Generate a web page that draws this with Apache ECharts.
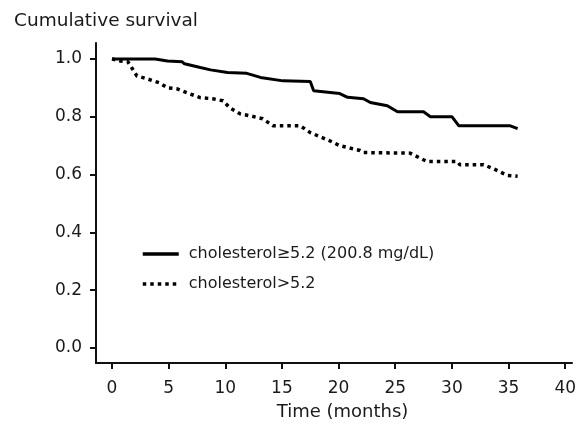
<!DOCTYPE html>
<html>
<head>
<meta charset="utf-8">
<script src="https://cdn.jsdelivr.net/npm/echarts@6/dist/echarts.min.js"></script>
<style>
  html, body { margin: 0; padding: 0; background: #fff; }
  #chart { width: 587px; height: 424px; }
</style>
</head>
<body>
<div id="chart"></div>
<script>
// Kaplan-Meier curves (time in months, cumulative survival)
var solidTime = [0, 3.8, 4.9, 6.2, 6.4, 7.8, 8.7, 10.2, 11.9, 13.1, 15.1, 17.5, 17.8, 20.1, 20.8, 22.2, 22.8, 24.3, 25.2, 27.5, 28.1, 30.0, 30.6, 35.1, 35.8];
var solidSurv = [1.0, 1.0, 0.993, 0.990, 0.983, 0.970, 0.962, 0.953, 0.950, 0.936, 0.924, 0.922, 0.890, 0.880, 0.867, 0.862, 0.849, 0.838, 0.817, 0.817, 0.800, 0.800, 0.769, 0.769, 0.759];

var dotTime = [0, 0.7, 1.4, 1.8, 2.2, 3.1, 4.2, 4.9, 5.7, 6.6, 7.8, 8.9, 9.8, 10.4, 11.3, 12.2, 13.3, 14.2, 16.6, 17.5, 19.2, 20.1, 21.9, 22.2, 26.3, 27.8, 30.5, 30.7, 32.8, 33.6, 34.9, 35.8];
var dotSurv = [1.0, 0.993, 0.990, 0.966, 0.941, 0.931, 0.917, 0.900, 0.897, 0.883, 0.866, 0.862, 0.855, 0.831, 0.810, 0.803, 0.793, 0.769, 0.769, 0.745, 0.717, 0.700, 0.683, 0.676, 0.674, 0.645, 0.645, 0.634, 0.634, 0.621, 0.597, 0.594];

var xTicks = [0, 5, 10, 15, 20, 25, 30, 35, 40];
var yTicks = [0, 0.2, 0.4, 0.6, 0.8, 1.0];

var seriesNames = ['cholesterol\u22655.2 (200.8 mg/dL)', 'cholesterol>5.2'];

function pairs(xs, ys) {
    var out = [];
    for (var i = 0; i < xs.length; i++) out.push([xs[i], ys[i]]);
    return out;
}

var font = 'DejaVu Sans';
var myChart = echarts.init(document.getElementById('chart'));
var option = {
    animation: false,
    backgroundColor: '#fff',
    textStyle: { fontFamily: font, color: '#1a1a1a' },
    grid: { left: 96, right: 15, top: 43, bottom: 61, outerBoundsMode: 'none' },
    legend: {
        orient: 'vertical',
        left: 136,
        top: 241,
        itemWidth: 36,
        itemHeight: 14,
        itemGap: 14,
        itemStyle: { opacity: 0 },
        lineStyle: { width: 3.5 },
        textStyle: { fontFamily: font, fontSize: 16, color: '#1a1a1a', padding: [0, 0, 0, 5] },
        data: seriesNames
    },
    xAxis: {
        type: 'value',
        min: -1.41,
        max: 40.6,
        name: 'Time (months)',
        nameLocation: 'middle',
        nameGap: 40,
        nameTextStyle: { fontFamily: font, fontSize: 18, color: '#1a1a1a', padding: [0, 0, 0, 17] },
        splitLine: { show: false },
        axisLine: { onZero: false, lineStyle: { color: '#111', width: 2 } },
        axisTick: { customValues: xTicks, length: 6, lineStyle: { color: '#111', width: 2 } },
        axisLabel: { customValues: xTicks, margin: 17, fontSize: 17, color: '#1a1a1a', fontFamily: font }
    },
    yAxis: {
        type: 'value',
        min: -0.052,
        max: 1.055,
        name: 'Cumulative survival',
        nameLocation: 'end',
        nameGap: 12,
        nameTextStyle: { fontFamily: font, fontSize: 18.5, color: '#1a1a1a', align: 'left', padding: [0, 0, 0, -82] },
        splitLine: { show: false },
        axisLine: { show: true, onZero: false, lineStyle: { color: '#111', width: 2 } },
        axisTick: { show: true, customValues: yTicks, length: 6, lineStyle: { color: '#111', width: 2 } },
        axisLabel: {
            customValues: yTicks, margin: 14, fontSize: 17, color: '#1a1a1a', fontFamily: font,
            formatter: function (v) { return v.toFixed(1); }
        }
    },
    series: [{
        name: seriesNames[0],
        type: 'line',
        symbol: 'none',
        itemStyle: { color: '#000' },
        data: pairs(solidTime, solidSurv),
        lineStyle: { color: '#000', width: 3 }
    }, {
        name: seriesNames[1],
        type: 'line',
        symbol: 'none',
        itemStyle: { color: '#000' },
        data: pairs(dotTime, dotSurv),
        lineStyle: { color: '#000', width: 3.5, type: [3.5, 4] }
    }]
};
myChart.setOption(option, true);
</script>
</body>
</html>
